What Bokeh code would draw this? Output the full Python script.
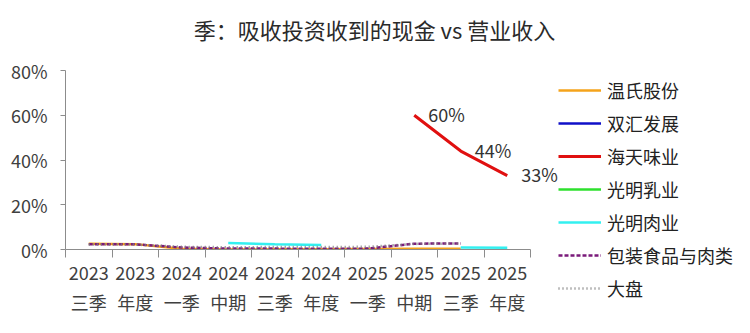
import numpy as np
from bokeh.plotting import figure
from bokeh.layouts import row
from bokeh.models import (Range1d, FixedTicker, LinearAxis, Legend, LegendItem, Label)
from bokeh.embed import file_html
from bokeh.resources import INLINE

years = ["2023", "2023", "2024", "2024", "2024", "2024", "2025", "2025", "2025", "2025"]
periods = ["三季", "年度", "一季", "中期", "三季", "年度", "一季", "中期", "三季", "年度"]
nan = np.nan
wens = [2.6, 2.4, 0.3, 0.0, 0.1, 0.1, 0.2, 0.3, 0.3, nan]
shuanghui = [nan] * 10
haitian = [nan, nan, nan, nan, nan, nan, nan, 60, 44, 33]
bright_dairy = [nan] * 10
bright_meat = [nan, nan, nan, 2.9, 2.3, 2.0, nan, nan, 0.9, 0.8]
packaged_food = [2.3, 2.3, 0.9, 0.4, 0.4, 0.3, 0.4, 2.6, 2.7, nan]
market = [2.2, 2.2, 1.2, 1.0, 1.1, 1.1, 1.2, 2.5, 2.7, nan]
yticks = [0, 20, 40, 60, 80]
title_text = "季：吸收投资收到的现金 vs 营业收入"

FONT = "Noto Sans CJK SC"
TXT = "#404040"
n = len(years)
x = [i + 0.5 for i in range(n)]

# layout geometry (pixels)
PW = 558             # width of main figure
LEFT, AX_RIGHT = 65, 530
TOP_Y80, BOT_Y0 = 70, 249
px_per_x = (AX_RIGHT - LEFT) / n
px_per_y = (BOT_Y0 - TOP_Y80) / 80
x_end = (PW - LEFT) / px_per_x
y_end = BOT_Y0 / px_per_y

p = figure(width=PW, height=333, output_backend="svg", toolbar_location=None, title=None,
           x_range=Range1d(0, x_end), y_range=Range1d(0, y_end),
           min_border_left=LEFT, min_border_right=0, min_border_top=0, min_border_bottom=333 - BOT_Y0,
           x_axis_location=None)
p.outline_line_color = None
p.grid.grid_line_color = None
p.background_fill_color = "white"
p.border_fill_color = "white"

# y axis
ya = p.yaxis[0]
ya.ticker = FixedTicker(ticks=yticks)
ya.bounds = (0, 80)
ya.major_label_overrides = {v: f"{v}%" for v in yticks}
ya.major_label_text_font = FONT
ya.major_label_text_font_size = "18px"
ya.major_label_text_color = TXT
ya.axis_line_color = "#8c8c8c"
ya.major_tick_line_color = "#8c8c8c"
ya.major_tick_in = 0
ya.major_tick_out = 5
ya.minor_tick_line_color = None
ya.major_label_standoff = 13

# x axes: years and periods
xa1 = LinearAxis(ticker=FixedTicker(ticks=x, minor_ticks=list(range(n + 1))),
                 major_label_overrides={x[i]: years[i] for i in range(n)}, bounds=(0, n))
xa1.axis_line_color = "#8c8c8c"
xa1.major_tick_line_color = None
xa1.minor_tick_line_color = "#8c8c8c"
xa1.minor_tick_in = 0
xa1.minor_tick_out = 8
xa1.major_label_text_font = FONT
xa1.major_label_text_font_size = "18px"
xa1.major_label_text_color = TXT
xa1.major_label_standoff = 8
p.add_layout(xa1, "below")

xa2 = LinearAxis(ticker=FixedTicker(ticks=x),
                 major_label_overrides={x[i]: periods[i] for i in range(n)}, bounds=(0, n))
xa2.axis_line_color = None
xa2.major_tick_line_color = None
xa2.minor_tick_line_color = None
xa2.major_label_text_font = FONT
xa2.major_label_text_font_size = "18px"
xa2.major_label_text_color = TXT
xa2.major_label_standoff = 0
p.add_layout(xa2, "below")

series = [
    ("温氏股份", wens, "#F5A31B", None, 2.5),
    ("双汇发展", shuanghui, "#1010C8", None, 2.5),
    ("海天味业", haitian, "#E01010", None, 3),
    ("光明乳业", bright_dairy, "#2EE02E", None, 2.5),
    ("光明肉业", bright_meat, "#33F0F0", None, 2.5),
    ("包装食品与肉类", packaged_food, "#7A1A7A", "4 2", 2.5),
    ("大盘", market, "#808080", "1 3", 2.5),
]

# legend panel as a separate, axis-less figure
lg = figure(width=750 - PW, height=333, output_backend="svg", toolbar_location=None, title=None,
            x_range=Range1d(0, 1), y_range=Range1d(0, 1),
            min_border=0, x_axis_location=None, y_axis_location=None)
lg.outline_line_color = None
lg.grid.grid_line_color = None
lg.border_fill_color = "white"
lg.background_fill_color = "white"

items = []
for name, vals, col, dash, w in series:
    kw = dict(line_color=col, line_width=w)
    if dash:
        kw["line_dash"] = dash
    p.line(x, vals, **kw)
    r = lg.line([nan], [nan], **kw)
    items.append(LegendItem(label=name, renderers=[r]))

legend = Legend(items=items, location=(0, -52), orientation="vertical")
legend.label_text_font = FONT
legend.label_text_font_size = "18px"
legend.label_text_color = "#222222"
legend.glyph_width = 43
legend.glyph_height = 20
legend.spacing = 7
legend.label_standoff = 6
legend.border_line_color = None
legend.background_fill_alpha = 0
legend.padding = 0
legend.margin = 0
lg.add_layout(legend, "left")

# data labels on 海天味业
label_dy = {7: 1, 8: 1, 9: 2}
for i in [7, 8, 9]:
    p.add_layout(Label(x=x[i], y=haitian[i], text=f"{haitian[i]:.0f}%", x_offset=14,
                       y_offset=label_dy[i], text_baseline="middle",
                       text_font=FONT, text_font_size="18px", text_color="#333333"))

# chart title (drawn inside the frame's upper margin)
p.add_layout(Label(x=(374 - LEFT) / px_per_x, y=(BOT_Y0 - 28) / px_per_y, text=title_text,
                   text_align="center", text_baseline="middle", text_font=FONT,
                   text_font_size="22px", text_color="#2a2a2a"))

layout = row(p, lg, spacing=0)
open("out.html", "w").write(file_html(layout, INLINE))
